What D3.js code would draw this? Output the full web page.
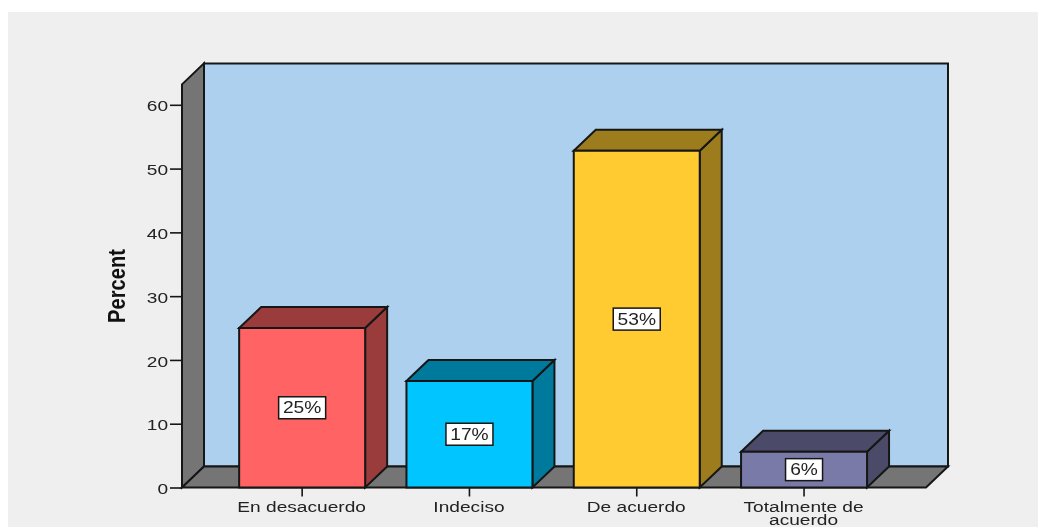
<!DOCTYPE html>
<html><head><meta charset="utf-8">
<script src="https://cdn.jsdelivr.net/npm/d3@7"></script>
<style>html,body{margin:0;padding:0;background:#fff;overflow:hidden}svg{display:block;filter:blur(0.35px)}text{font-family:"Liberation Sans",Arial,sans-serif}</style>
</head><body><svg id="c" width="1038" height="527"></svg>
<script>
const categories = ["En desacuerdo","Indeciso","De acuerdo","Totalmente de acuerdo"];
const percents = [25, 16.7, 52.8, 5.6];
const barLabels = ["25%","17%","53%","6%"];
const frontColors = ["#ff6363","#00c5ff","#ffcb30","#7a7aa8"];
const sideColors = ["#9a3c3c","#007a9c","#9c7c1c","#4b4b69"];
const yTicks = [0,10,20,30,40,50,60];
const xLabelLines = [["En desacuerdo"],["Indeciso"],["De acuerdo"],["Totalmente de","acuerdo"]];
const yMax = 63.2;

const svg = d3.select("#c");
svg.append("rect").attr("x",8).attr("y",12).attr("width",1030).attr("height",515).attr("fill","#efefef");

const y = d3.scaleLinear().domain([0,60]).range([487.5,104.8]);
const x = d3.scaleBand().domain(categories).range([218.5,887.7]).paddingInner(0.247).paddingOuter(0.1235);
const frontL = 182, frontR = 926, dx = 22, dy = -21;
const ink = "#161616";
const stretch = 1.32;
const line = d3.line();
const poly = (pts, fill) => svg.append("path").attr("d", line(pts)+"Z").attr("fill",fill)
  .attr("stroke",ink).attr("stroke-width",2).attr("stroke-linejoin","miter");

// walls
poly([[frontL+dx,y(yMax)+dy],[frontR+dx,y(yMax)+dy],[frontR+dx,y(0)+dy],[frontL+dx,y(0)+dy]],"#acd0ee");
poly([[frontL,y(yMax)],[frontL+dx,y(yMax)+dy],[frontL+dx,y(0)+dy],[frontL,y(0)]],"#757575");
poly([[frontL,y(0)],[frontL+dx,y(0)+dy],[frontR+dx,y(0)+dy],[frontR,y(0)]],"#757575");

// y axis
const yAxis = d3.axisLeft(y).tickValues(yTicks).tickSize(12).tickPadding(2);
const gy = svg.append("g").attr("transform",`translate(${frontL},0)`).call(yAxis);
gy.select(".domain").remove();
gy.selectAll(".tick line").attr("stroke",ink).attr("stroke-width",1.6);
gy.selectAll("text").attr("font-size",14.5).attr("fill","#222")
  .attr("x",-14/stretch).attr("transform",`translate(0,1.5) scale(${stretch},1)`);

// x axis
const xAxis = d3.axisBottom(x).tickSize(9).tickPadding(2).tickFormat("");
const gx = svg.append("g").attr("transform",`translate(0,${y(0)})`).call(xAxis);
gx.select(".domain").remove();
gx.selectAll(".tick line").attr("stroke",ink).attr("stroke-width",1.6);
categories.forEach((c,i)=>{
  const t = svg.append("text").attr("text-anchor","middle").attr("font-size",14.5).attr("fill","#222")
    .attr("transform",`translate(${x(c)+x.bandwidth()/2-0.5},0) scale(${stretch},1)`);
  xLabelLines[i].forEach((s,j)=>t.append("tspan").attr("x",0).attr("y",512+j*13).text(s));
});

// bars
categories.forEach((c,i)=>{
  const L=x(c), R=L+x.bandwidth(), T=y(percents[i]), B=y(0);
  poly([[R,T],[R+dx,T+dy],[R+dx,B+dy],[R,B]],sideColors[i]);
  poly([[L,T],[L+dx,T+dy],[R+dx,T+dy],[R,T]],sideColors[i]);
  poly([[L,T],[R,T],[R,B],[L,B]],frontColors[i]);
  const cx=(L+R)/2, cy=(T+B)/2;
  const w = barLabels[i].length>2?47:37;
  svg.append("rect").attr("x",cx-w/2).attr("y",cy-11).attr("width",w).attr("height",22)
    .attr("fill","#fff").attr("stroke",ink).attr("stroke-width",1.5);
  svg.append("text").attr("text-anchor","middle").attr("font-size",16).attr("fill","#222")
    .attr("transform",`translate(${cx},${cy+5.5}) scale(1.2,1)`).text(barLabels[i]);
});

// y title
svg.append("text").attr("transform","translate(125,286) rotate(-90) scale(1.22,1.4)")
  .attr("text-anchor","middle").attr("font-size",16.5).attr("font-weight","bold").attr("fill","#111").text("Percent");
</script></body></html>
